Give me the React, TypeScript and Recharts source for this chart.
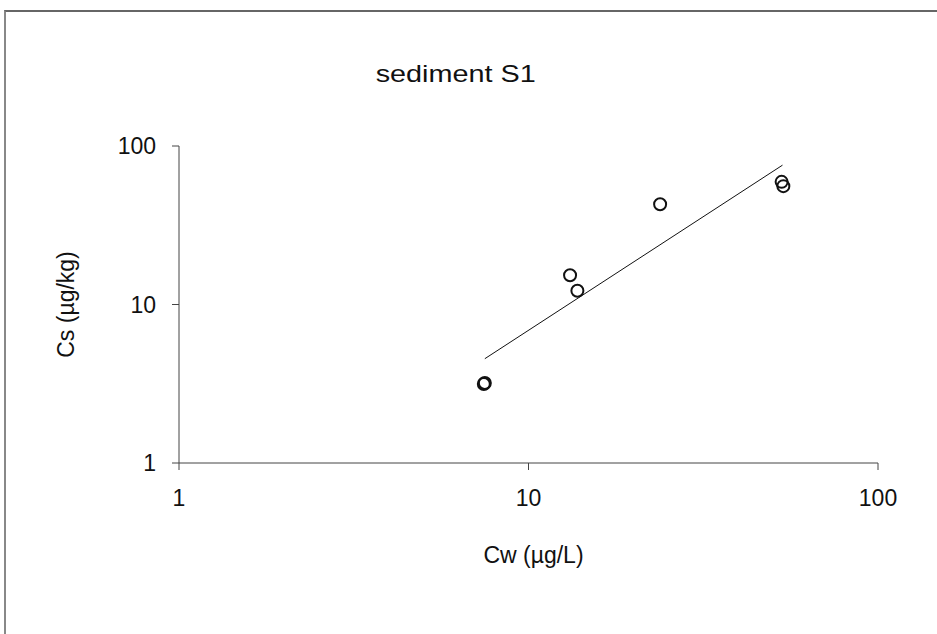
import { ScatterChart, Scatter, XAxis, YAxis, Label } from 'recharts'

// measured points (log-log)
const cwValues = [7.45, 7.5, 13.15, 13.8, 23.8, 53.0, 53.6]
const csValues = [3.15, 3.2, 15.3, 12.2, 42.9, 59.4, 55.8]

// fitted trend line end points
const trendCw = [7.5, 53.3]
const trendCs = [4.55, 75.7]

const axisTicks = [1, 10, 100]

const points = cwValues.map((x, i) => ({ x, y: csValues[i] }))
const trend = trendCw.map((x, i) => ({ x, y: trendCs[i] }))

const FONT = '"Liberation Sans", Arial, sans-serif'

const OpenCircle = (props: any) => {
  if (props.cx == null || props.cy == null) return null
  return (
    <circle
      cx={props.cx}
      cy={props.cy}
      r={6}
      fill="none"
      stroke="#111"
      strokeWidth={2}
    />
  )
}

export default function App() {
  return (
    <div
      style={{
        position: 'absolute',
        left: 0,
        top: 0,
        width: 937,
        height: 634,
        background: '#fff',
        fontFamily: FONT,
        overflow: 'hidden',
      }}
    >
      {/* frame of the original chart area */}
      <div
        style={{
          position: 'absolute',
          left: 4,
          top: 10,
          width: 940,
          height: 640,
          borderTop: '2px solid #666',
          borderLeft: '2px solid #888',
        }}
      />
      <div
        style={{
          position: 'absolute',
          left: 0,
          width: 911,
          top: 60,
          textAlign: 'center',
          fontSize: 24,
          color: '#111',
        }}
      >
        <span style={{ display: 'inline-block', transform: 'scaleX(1.2)' }}>
          sediment S1
        </span>
      </div>

      <ScatterChart
        width={937}
        height={634}
        margin={{ top: 146, right: 59, bottom: 111, left: 119 }}
        style={{ position: 'absolute', left: 0, top: 0 }}
      >
        <XAxis
          type="number"
          dataKey="x"
          scale="log"
          domain={[1, 100]}
          ticks={axisTicks}
          allowDataOverflow
          height={60}
          tickSize={7}
          tickMargin={20}
          stroke="#444"
          tick={{ fill: '#111', fontSize: 23, fontFamily: FONT }}
        >
          <Label
            content={(p: any) => {
              const vb = p.viewBox
              return (
                <text
                  x={vb.x + vb.width / 2 + 5}
                  y={vb.y + 100}
                  textAnchor="middle"
                  fill="#111"
                  fontSize={23}
                  fontFamily={FONT}
                >
                  Cw (µg/L)
                </text>
              )
            }}
          />
        </XAxis>
        <YAxis
          type="number"
          dataKey="y"
          scale="log"
          domain={[1, 100]}
          ticks={axisTicks}
          allowDataOverflow
          width={60}
          tickSize={7}
          tickMargin={16}
          stroke="#444"
          tick={{ fill: '#111', fontSize: 23, fontFamily: FONT }}
        >
          <Label
            content={(p: any) => {
              const vb = p.viewBox
              const cy = vb.y + vb.height / 2
              const lx = 74
              return (
                <text
                  x={lx}
                  y={cy}
                  transform={`rotate(-90 ${lx} ${cy})`}
                  textAnchor="middle"
                  fill="#111"
                  fontSize={23}
                  fontFamily={FONT}
                >
                  Cs (µg/kg)
                </text>
              )
            }}
          />
        </YAxis>
        <Scatter
          data={trend}
          line={{ stroke: '#111', strokeWidth: 1 }}
          shape={() => null}
          isAnimationActive={false}
        />
        <Scatter data={points} shape={OpenCircle} isAnimationActive={false} />
      </ScatterChart>
    </div>
  )
}
